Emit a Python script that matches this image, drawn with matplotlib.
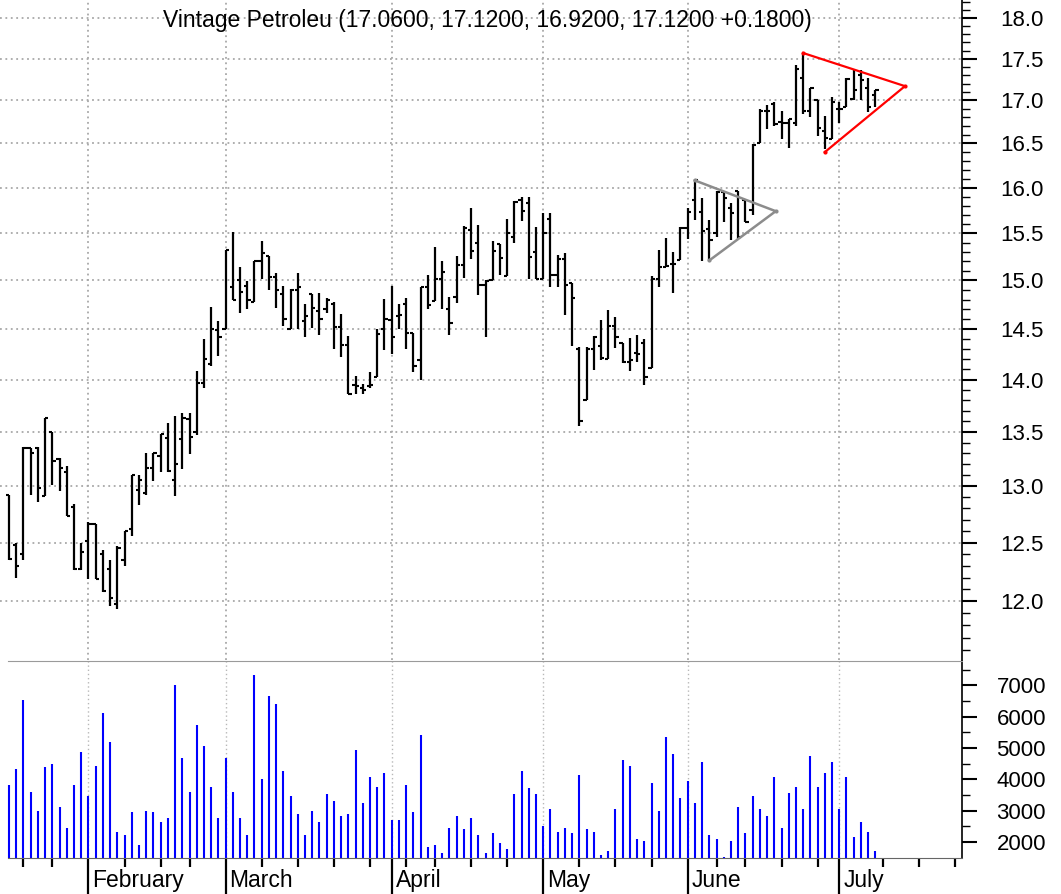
import matplotlib
matplotlib.use("Agg")
import matplotlib.pyplot as plt
from matplotlib.ticker import FixedLocator, NullFormatter, FuncFormatter
from matplotlib.transforms import blended_transform_factory

plt.rcParams['font.family'] = ['Liberation Sans', 'DejaVu Sans']

# daily OHLC (trading-day index 0..120)
opens = [12.92, 12.48, 12.40, 13.35, 13.35, 12.91, 13.50, 13.25, 13.13, 12.81,
         12.27, 12.51, 12.66, 12.40, 12.27, 11.98, 12.35, 12.62, 12.97, 12.94,
         13.17, 13.28, 13.44, 13.06, 13.43, 13.62, 13.50, 13.97, 14.15, 14.49,
         14.50, 14.93, 15.00, 14.94, 14.78, 15.20, 15.26, 15.04, 14.86, 14.50,
         14.90, 14.58, 14.86, 14.68, 14.70, 14.76, 14.52, 14.34, 13.95, 13.92,
         13.94, 14.03, 14.50, 14.59, 14.63, 14.76, 14.46, 14.19, 14.93, 14.79,
         15.01, 14.70, 14.83, 15.16, 15.53, 15.40, 14.95, 15.00, 15.38, 15.05,
         15.46, 15.86, 15.83, 15.30, 15.01, 15.65, 15.06, 15.22, 14.97, 14.30,
         13.80, 14.30, 14.33, 14.20, 14.53, 14.36, 14.17, 14.26, 14.36, 14.11,
         15.01, 15.14, 15.17, 15.21, 15.56, 15.86, 15.73, 15.55, 15.50, 15.95,
         15.78, 15.96, 15.86, 15.75, 16.50, 16.87, 16.96, 16.75, 16.74, 16.73,
         17.27, 16.88, 17.00, 16.64, 16.55, 16.90, 16.92, 17.02, 17.30, 17.15,
         17.06]
highs = [12.92, 12.50, 13.36, 13.35, 13.36, 13.63, 13.50, 13.26, 13.18, 12.84,
         12.50, 12.68, 12.66, 12.44, 12.35, 12.47, 12.60, 13.10, 13.10, 13.30,
         13.30, 13.48, 13.58, 13.65, 13.68, 13.68, 14.08, 14.40, 14.73, 14.58,
         15.32, 15.51, 15.14, 14.99, 15.20, 15.42, 15.26, 15.08, 14.94, 14.91,
         15.08, 14.76, 14.86, 14.87, 14.82, 14.78, 14.65, 14.43, 14.04, 13.96,
         14.07, 14.50, 14.81, 14.94, 14.76, 14.82, 14.46, 14.93, 15.06, 15.35,
         15.20, 14.83, 15.26, 15.58, 15.78, 15.59, 15.00, 15.42, 15.38, 15.65,
         15.85, 15.90, 15.90, 15.57, 15.72, 15.72, 15.27, 15.29, 14.97, 14.32,
         14.32, 14.43, 14.59, 14.69, 14.62, 14.36, 14.41, 14.44, 14.40, 15.05,
         15.32, 15.45, 15.30, 15.57, 15.78, 16.10, 15.89, 15.64, 15.96, 15.96,
         15.83, 15.96, 15.87, 16.49, 16.90, 16.95, 16.98, 16.88, 16.78, 17.43,
         17.57, 17.15, 17.00, 16.82, 17.04, 16.98, 17.27, 17.36, 17.36, 17.27,
         17.12]
lows = [12.35, 12.20, 12.35, 12.92, 12.86, 12.91, 13.01, 12.96, 12.73, 12.26,
        12.26, 12.19, 12.19, 12.08, 11.96, 11.94, 12.30, 12.56, 12.83, 12.92,
        13.05, 13.13, 13.13, 12.91, 13.16, 13.29, 13.47, 13.92, 14.13, 14.23,
        14.50, 14.80, 14.66, 14.70, 14.78, 15.01, 14.90, 14.72, 14.53, 14.50,
        14.50, 14.42, 14.51, 14.44, 14.66, 14.30, 14.22, 13.86, 13.86, 13.86,
        13.92, 14.03, 14.29, 14.25, 14.50, 14.30, 14.07, 14.00, 14.70, 14.79,
        14.70, 14.44, 14.77, 15.03, 15.22, 14.85, 14.42, 15.00, 15.06, 15.05,
        15.40, 15.63, 15.01, 15.01, 15.01, 14.93, 14.93, 14.64, 14.33, 13.56,
        13.80, 14.09, 14.19, 14.20, 14.31, 14.16, 14.08, 14.17, 13.95, 14.11,
        14.93, 15.14, 14.87, 15.21, 15.44, 15.64, 15.20, 15.21, 15.46, 15.62,
        15.43, 15.44, 15.62, 15.70, 16.50, 16.67, 16.70, 16.55, 16.45, 16.70,
        16.84, 16.80, 16.58, 16.43, 16.55, 16.74, 16.92, 17.00, 17.00, 16.86,
        16.92]
closes = [12.36, 12.30, 13.35, 13.30, 12.98, 13.63, 13.23, 13.17, 12.73, 12.27,
          12.42, 12.66, 12.19, 12.09, 12.03, 12.45, 12.60, 13.10, 13.06, 13.17,
          13.30, 13.48, 13.14, 13.20, 13.63, 13.45, 13.97, 14.20, 14.50, 14.42,
          15.32, 14.80, 14.88, 14.80, 15.20, 15.29, 15.04, 14.90, 14.60, 14.90,
          14.93, 14.63, 14.72, 14.60, 14.80, 14.52, 14.34, 13.86, 13.94, 13.90,
          13.95, 14.45, 14.60, 14.42, 14.64, 14.46, 14.13, 14.93, 14.75, 15.02,
          15.09, 14.56, 15.16, 15.56, 15.31, 14.95, 14.99, 15.31, 15.24, 15.50,
          15.84, 15.74, 15.25, 15.01, 15.50, 15.06, 15.22, 14.95, 14.82, 13.60,
          14.30, 14.42, 14.21, 14.53, 14.42, 14.17, 14.19, 14.25, 14.03, 15.01,
          15.14, 15.15, 15.17, 15.56, 15.73, 16.09, 15.52, 15.43, 15.95, 15.88,
          15.72, 15.46, 15.62, 16.48, 16.88, 16.88, 16.72, 16.74, 16.78, 17.38,
          16.88, 17.15, 16.68, 16.56, 16.98, 16.90, 17.26, 17.12, 17.24, 16.92,
          17.12]
volume = [3820, 4325, 6543, 3590, 3000, 4390, 4500, 3130, 2460, 3820,
          4870, 3470, 4430, 6120, 5180, 2330, 2210, 2950, 1905, 3000,
          2950, 2640, 2760, 7020, 4690, 3590, 5730, 5060, 3770, 2760,
          4690, 3590, 2760, 2210, 7340, 4020, 6670, 6410, 4260, 3470,
          2890, 2210, 3000, 2640, 3530, 3320, 2820, 2890, 4940, 3260,
          4080, 3770, 4200, 2700, 2700, 3820, 2950, 5420, 1850, 1905,
          1660, 2460, 2820, 2400, 2760, 2210, 1660, 2280, 1980, 1790,
          3530, 4260, 3710, 3530, 2520, 3070, 2330, 2460, 2280, 4130,
          2400, 2330, 1600, 1720, 3070, 4620, 4440, 2090, 2030, 3890,
          3000, 5360, 4800, 3400, 3950, 3260, 4560, 2210, 2090, 1530,
          2030, 3130, 2280, 3460, 3070, 2820, 4070, 2460, 3580, 3770,
          3070, 4740, 3770, 4190, 4560, 3070, 4070, 2150, 2640, 2330,
          1720]

month_names = ["February", "March", "April", "May", "June", "July"]
month_idx = [11, 30, 53, 74, 94, 115]
week_idx = [2, 6, 16, 21, 25, 35, 40, 45, 50, 55, 59, 64, 69, 79, 84, 89,
            98, 102, 107, 112, 121, 126, 131]

# triangle pattern trend lines: upper line start, apex, lower line start (bar index, price)
grey_tri_x = [95, 106.2, 97]
grey_tri_y = [16.08, 15.74, 15.21]
red_tri_x = [110, 124.1, 113]
red_tri_y = [17.57, 17.17, 16.40]

title = "Vintage Petroleu (17.0600, 17.1200, 16.9200, 17.1200 +0.1800)"

W, H = 1061, 894
fig = plt.figure(figsize=(W / 100, H / 100), dpi=100)
ax = fig.add_axes([0, 1 - 660 / H, 962 / W, 660 / H])
axv = fig.add_axes([0, 1 - 858 / H, 962 / W, 197 / H])

x = list(range(len(closes)))
xlim = (-1.25, 132.0)
dot = (0, (1, 2))
tick = 0.45

# ---- price panel
ax.set_yscale('log')
ax.set_xlim(*xlim)
ax.set_ylim(11.52, 18.23)
for m in month_idx:
    ax.axvline(m, color='#a8a8a8', ls=dot, lw=1.3, zorder=0)
ax.vlines(x, lows, highs, color='black', lw=1.6)
ax.hlines(opens, [i - tick for i in x], x, color='black', lw=1.5)
ax.hlines(closes, x, [i + tick for i in x], color='black', lw=1.5)
ax.plot(grey_tri_x, grey_tri_y, color='#8c8c8c', lw=1.8, marker='o', ms=2)
ax.plot(red_tri_x, red_tri_y, color='red', lw=1.6, marker='o', ms=2)

majors = [12.0 + 0.5 * k for k in range(13)]
minors = [round(11.6 + 0.1 * k, 1) for k in range(67)]
minors = [v for v in minors if abs(v * 2 - round(v * 2)) > 1e-6]
ax.yaxis.set_major_locator(FixedLocator(majors))
ax.yaxis.set_minor_locator(FixedLocator(minors))
ax.yaxis.set_major_formatter(FuncFormatter(lambda v, p: f"{v:.1f}"))
ax.yaxis.set_minor_formatter(NullFormatter())
ax.grid(axis='y', which='major', color='#a8a8a8', ls=dot, lw=1.3)
ax.set_axisbelow(True)
ax.yaxis.tick_right()
ax.tick_params(axis='y', which='major', length=10.8, width=1.5, pad=17, labelsize=16)
ax.tick_params(axis='y', which='minor', length=5.4, width=1.0)
ax.tick_params(axis='x', which='both', bottom=False, labelbottom=False)
for s in ['top', 'left', 'bottom']:
    ax.spines[s].set_visible(False)
ax.spines['right'].set_linewidth(1.2)

fig.text(487 / W, 1 - 20 / H, title, ha='center', va='center', fontsize=16.5)

# ---- volume panel
vbot = 1490
axv.set_xlim(*xlim)
axv.set_ylim(vbot, 7780)
for m in month_idx:
    axv.axvline(m, color='#b8b8b8', ls=dot, lw=1.0, zorder=0)
axv.vlines(x, vbot, volume, color='#0000ff', lw=1.5)
axv.yaxis.set_major_locator(FixedLocator(range(2000, 7001, 1000)))
axv.yaxis.set_minor_locator(FixedLocator(range(2500, 7501, 1000)))
axv.yaxis.tick_right()
axv.tick_params(axis='y', which='major', length=10.8, width=1.5, pad=14, labelsize=16)
axv.tick_params(axis='y', which='minor', length=5.4, width=1.0)
axv.xaxis.set_major_locator(FixedLocator(month_idx))
axv.xaxis.set_minor_locator(FixedLocator(week_idx))
axv.xaxis.set_major_formatter(NullFormatter())
axv.tick_params(axis='x', which='major', length=26, width=1.6)
axv.tick_params(axis='x', which='minor', length=6.5, width=1.6)
axv.spines['left'].set_visible(False)
axv.spines['right'].set_linewidth(1.2)
axv.spines['top'].set_color('#9a9a9a')
axv.spines['top'].set_bounds(-0.2, xlim[1])
axv.spines['bottom'].set_color('#666666')
axv.spines['bottom'].set_bounds(-0.2, xlim[1])

trans = blended_transform_factory(axv.transData, fig.transFigure)
for m, name in zip(month_idx, month_names):
    axv.text(m + 0.55, 1 - 887 / H, name, transform=trans, ha='left',
             va='baseline', fontsize=16.5)

fig.savefig("out.png", dpi=100)
